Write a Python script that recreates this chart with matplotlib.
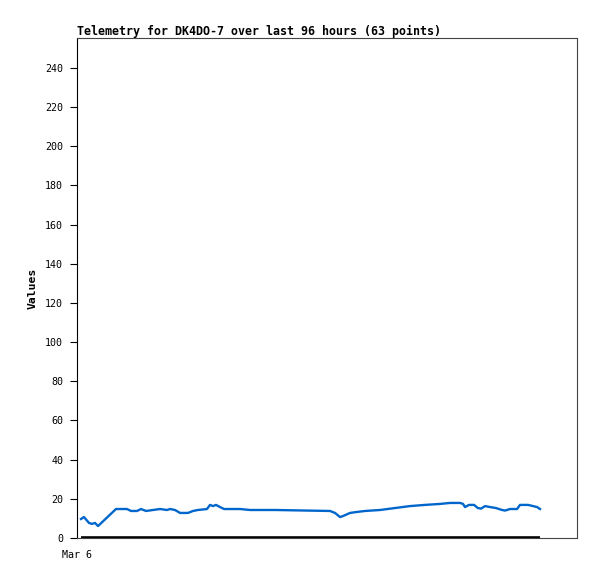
import matplotlib
matplotlib.use("Agg")
import matplotlib.pyplot as plt

hours = [0.77, 1.34, 2.30, 2.88, 3.46, 4.03, 7.49, 9.60, 10.37, 11.52, 12.29, 13.25,
         14.59, 15.94, 17.28, 17.86, 18.82, 19.78, 21.31, 22.27, 23.23, 24.96, 25.54,
         26.11, 26.69, 27.46, 28.23, 31.30, 33.22, 38.02, 48.58, 49.54, 50.50, 51.08,
         52.42, 53.76, 55.30, 58.18, 61.06, 63.94, 66.82, 69.70, 71.62, 73.54, 74.12,
         74.50, 75.27, 76.23, 76.96, 77.57, 78.34, 79.30, 80.45, 81.61, 82.18, 83.14,
         84.49, 85.06, 85.83, 86.60, 87.56, 88.33, 88.90]
values = [9.7, 10.7, 7.7, 7.2, 7.7, 6.1, 14.8, 14.8, 13.8, 13.8, 14.8, 13.8,
          14.3, 14.8, 14.3, 14.8, 14.3, 12.8, 12.8, 13.8, 14.3, 14.8, 16.9,
          16.3, 16.9, 15.8, 14.8, 14.8, 14.3, 14.3, 13.8, 12.8, 10.7, 11.2,
          12.8, 13.3, 13.8, 14.3, 15.3, 16.3, 16.9, 17.4, 17.9, 17.9, 17.4,
          15.8, 16.9, 16.9, 15.3, 15.0, 16.3, 15.8, 15.3, 14.3, 14.0, 14.8,
          14.8, 16.9, 16.9, 16.9, 16.3, 15.8, 14.8]
baseline = [0.0] * len(hours)

title = "Telemetry for DK4DO-7 over last 96 hours (63 points)"
yticks = list(range(0, 241, 20))
xtick_pos = [0]
xtick_labels = ["Mar 6"]

mono = ["DejaVu Sans Mono"]

fig = plt.figure(figsize=(5.97, 5.79), dpi=100)
ax = fig.add_axes([77/597, 41/579, 500/597, 500/579])

ax.plot(hours, baseline, color="black", lw=2.6, solid_capstyle="butt", zorder=2)
ax.plot(hours, values, color="#0066cc", lw=1.7, zorder=3)

ax.set_xlim(0, 96)
ax.set_ylim(0, 255.3)
ax.set_yticks(yticks)
ax.set_yticklabels([str(v) for v in yticks], family=mono, fontsize=7.2)
ax.set_xticks(xtick_pos)
ax.set_xticklabels(xtick_labels, family=mono, fontsize=7.2)
ax.tick_params(axis="both", direction="out", length=5, width=0.8, color="black", pad=5)
ax.tick_params(axis="x", length=0, pad=9)

for s in ax.spines.values():
    s.set_linewidth(0.8)
    s.set_color("#444444")
ax.spines["left"].set_color("black")

ax.set_ylabel("Values", family=mono, fontsize=8.2, fontweight="bold", labelpad=5)
fig.text(77/597, 1 - 31/579, title, family=mono, fontsize=8.35, fontweight="bold",
         ha="left", va="center")

fig.savefig("out.png", dpi=100)
